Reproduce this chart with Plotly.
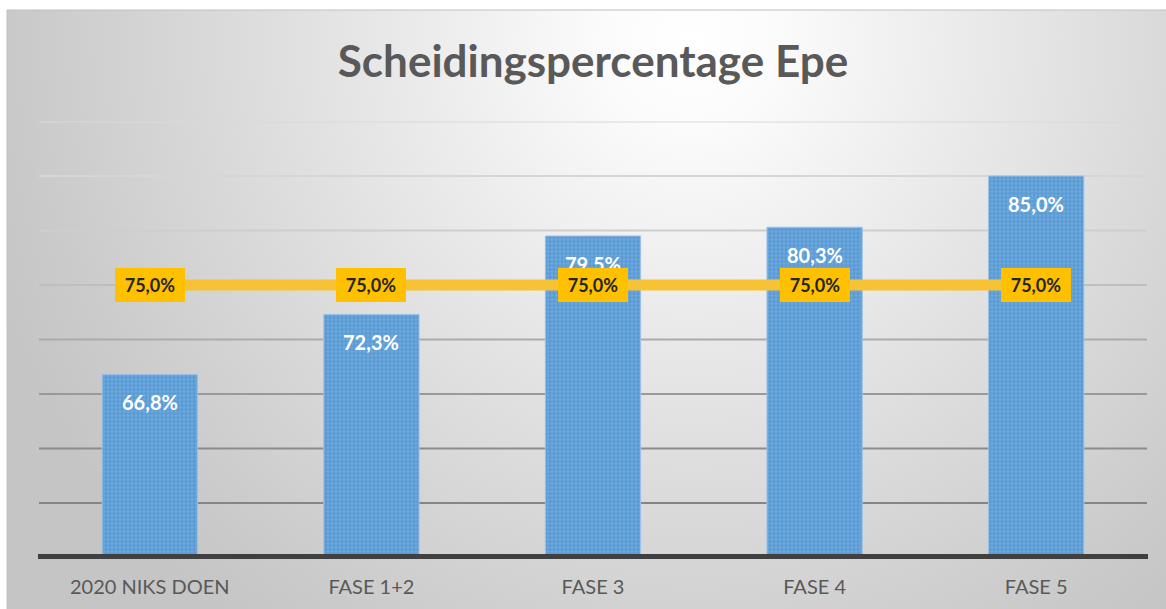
import plotly.graph_objects as go

# ---- data ----
categories = ["2020 NIKS DOEN", "FASE 1+2", "FASE 3", "FASE 4", "FASE 5"]
separation_pct = [66.8, 72.3, 79.5, 80.3, 85.0]
target_pct = [75.0, 75.0, 75.0, 75.0, 75.0]
y_range = [50, 90]
grid_levels = [55, 60, 65, 70, 75, 80, 85, 90]
grid_colors = ["#858585", "#8c8c8c", "#999999", "#ababab", "#bebebe", "#cecece", "#d6d6d6", "#dadada"]

W, H = 1166, 609
FONT = "Lato, 'Open Sans', sans-serif"


def fmt(v):
    return f"{v:.1f}%".replace(".", ",")


fig = go.Figure()

# ---- background radial gradient (subplot xy, drawn first) ----
x0p, y0p = 7, 10              # chart area top-left in pixels
aw, ah = W - x0p, H - y0p     # pixel size of the background axes
cx, cy = 690, 40              # gradient centre in pixels
R = 740                        # radius in pixels
xc = (cx - x0p) / aw
yc = (H - cy) / ah
rx, ry = R / aw, R / ah
fig.add_trace(go.Scatter(
    x=[xc - rx, xc + rx, xc + rx, xc - rx, xc - rx],
    y=[yc - ry, yc - ry, yc + ry, yc + ry, yc - ry],
    mode="lines", fill="toself", line=dict(width=0),
    fillgradient=dict(type="radial",
                      colorscale=[[0, "#ffffff"], [0.12, "#fbfbfb"], [0.35, "#ececec"],
                                  [0.65, "#d9d9d9"], [0.9, "#cacaca"], [1, "#c5c5c5"]]),
    hoverinfo="skip", showlegend=False, xaxis="x", yaxis="y",
))

# ---- bars ----
fig.add_trace(go.Bar(
    x=categories, y=separation_pct, xaxis="x2", yaxis="y2",
    marker=dict(color="#5b9bd5", line=dict(color="#9cc2e8", width=1),
                pattern=dict(shape=".", fillmode="overlay", fgcolor="#8ab9e6", size=4, solidity=0.35)),
    width=0.43, hoverinfo="skip", showlegend=False,
))

# ---- target line ----
fig.add_trace(go.Scatter(
    x=categories, y=target_pct, xaxis="x2", yaxis="y2", mode="lines",
    line=dict(color="#f7c235", width=11), hoverinfo="skip", showlegend=False,
))

annotations = []
for c, v in zip(categories, separation_pct):
    annotations.append(dict(
        x=c, y=v, xref="x2", yref="y2", text=fmt(v), showarrow=False,
        yshift=-28, font=dict(family=FONT, size=20, color="#ffffff", weight="bold"),
    ))
for c, v in zip(categories, target_pct):
    annotations.append(dict(
        x=c, y=v, xref="x2", yref="y2", text=fmt(v), showarrow=False,
        font=dict(family=FONT, size=18, color="#262626", weight="bold"),
        bgcolor="#ffc000", bordercolor="#ffc000", borderwidth=1, borderpad=5,
        width=58, height=22,
    ))

plot_l, plot_r = 38, 1148
plot_t, plot_b = 121.5, 557.5

shapes = []
for lvl, col in zip(grid_levels, grid_colors):
    shapes.append(dict(type="line", xref="x2", yref="y2", x0=-0.5, x1=4.5, y0=lvl, y1=lvl,
                       line=dict(color=col, width=2), layer="below"))
# baseline (category axis line)
shapes.append(dict(type="line", xref="paper", yref="paper", x0=plot_l / W, x1=plot_r / W,
                   y0=1 - 556.5 / H, y1=1 - 556.5 / H,
                   line=dict(color="#404040", width=5), layer="above"))
# chart-area border
shapes.append(dict(type="rect", xref="paper", yref="paper",
                   x0=x0p / W, x1=1.05, y0=-0.05, y1=1 - y0p / H,
                   line=dict(color="#c0c0c0", width=1), fillcolor="rgba(0,0,0,0)", layer="above"))

fig.update_layout(
    width=W, height=H,
    margin=dict(l=0, r=0, t=0, b=0),
    paper_bgcolor="#ffffff", plot_bgcolor="rgba(0,0,0,0)",
    title=dict(text="Scheidingspercentage Epe", x=(plot_l + plot_r) / 2 / W, xanchor="center",
               y=1 - 62 / H, yanchor="middle", yref="container",
               font=dict(family=FONT, size=44, color="#595959", weight="bold")),
    xaxis=dict(domain=[x0p / W, 1], range=[0, 1], visible=False, fixedrange=True),
    yaxis=dict(domain=[0, 1 - y0p / H], range=[0, 1], visible=False, fixedrange=True),
    xaxis2=dict(domain=[plot_l / W, plot_r / W], anchor="y2", showgrid=False, showline=False,
                zeroline=False, ticks="", ticklabelstandoff=15, automargin=False,
                tickfont=dict(family=FONT, size=20, color="#595959")),
    yaxis2=dict(domain=[1 - plot_b / H, 1 - plot_t / H], anchor="x2", range=y_range,
                showgrid=False, zeroline=False, showticklabels=False, showline=False),
    annotations=annotations, shapes=shapes, bargap=0.57,
)

fig.write_html("out.html", config={"displayModeBar": False},
               post_script="document.body.style.margin='0';document.body.style.padding='0';")
